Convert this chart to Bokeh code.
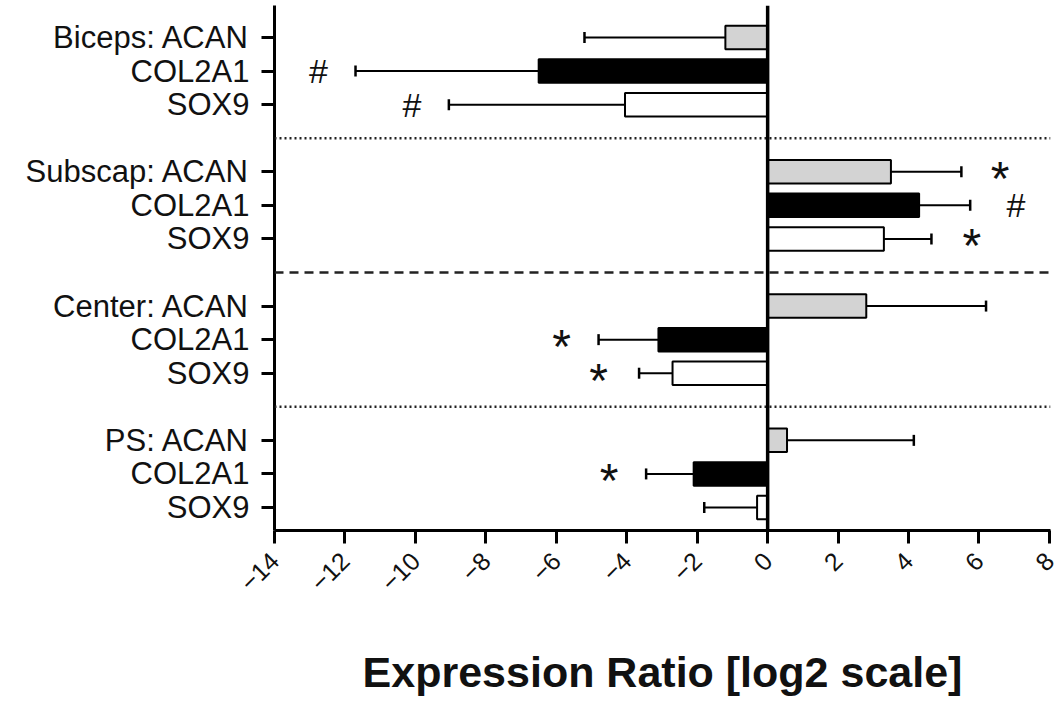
import math
from bokeh.plotting import figure
from bokeh.models import ColumnDataSource, Range1d, FixedTicker, Span, Whisker, TeeHead
from bokeh.core.properties import value
from bokeh.embed import file_html
from bokeh.resources import INLINE

# ---- data ----
row_labels = ["Biceps: ACAN", "COL2A1", "SOX9",
              "Subscap: ACAN", "COL2A1", "SOX9",
              "Center: ACAN", "COL2A1", "SOX9",
              "PS: ACAN", "COL2A1", "SOX9"]
genes = ["ACAN", "COL2A1", "SOX9"] * 4
row_pos = [0, 1, 2, 4, 5, 6, 8, 9, 10, 12, 13, 14]
ratios = [-1.2, -6.5, -4.05, 3.5, 4.3, 3.3, 2.8, -3.1, -2.7, 0.55, -2.1, -0.3]
sem = [4.0, 5.2, 5.0, 2.0, 1.45, 1.35, 3.4, 1.7, 0.95, 3.6, 1.35, 1.5]
gene_color = {"ACAN": "#d3d3d3", "COL2A1": "#000000", "SOX9": "#ffffff"}

sep_pos = [3, 7, 11]
sep_dash = ["2 3", "9 6", "2 3"]

mark_row = [1, 2, 4, 5, 6, 9, 10, 13]
mark_x = [-12.75, -10.1, 6.6, 7.05, 5.8, -5.85, -4.8, -4.5]
mark_sym = ["#", "#", "*", "#", "*", "*", "*", "*"]

x_ticks = list(range(-14, 9, 2))
x_label = "Expression Ratio [log2 scale]"

# ---- figure ----
FONT = "Liberation Sans"
p = figure(width=1059, height=702, output_backend="svg", toolbar_location=None,
           x_range=Range1d(-14, 8.03), y_range=Range1d(14.685, -0.953),
           min_border_left=274, min_border_right=9, min_border_top=5,
           min_border_bottom=172)
p.outline_line_color = None
p.xgrid.visible = False
p.ygrid.visible = False

ends = [r + (s if r >= 0 else -s) for r, s in zip(ratios, sem)]
src = ColumnDataSource(dict(y=row_pos, v=ratios, e=ends,
                            fill=[gene_color[g] for g in genes]))

p.hbar(y="y", left=0, right="v", height=0.7, source=src, fill_color="fill",
       line_color="black", line_width=2)

wh = Whisker(base="y", lower="v", upper="e", dimension="width", source=src,
             line_color="black", line_width=2,
             upper_head=TeeHead(size=11, line_width=2.5, line_color="black"),
             lower_head=None)
p.add_layout(wh)

for pos, dash in zip(sep_pos, sep_dash):
    p.add_layout(Span(location=pos, dimension="width", line_color="#222222",
                      line_width=2.5, line_dash=dash))

p.add_layout(Span(location=0, dimension="height", line_color="black", line_width=3.5))

hs = [i for i, s in enumerate(mark_sym) if s == "#"]
ss = [i for i, s in enumerate(mark_sym) if s == "*"]
p.text(x=[mark_x[i] for i in hs], y=[mark_row[i] for i in hs], text=[mark_sym[i] for i in hs],
       text_font=value(FONT), text_font_size="34px", text_align="center",
       text_baseline="middle", text_color="#111111")
p.text(x=[mark_x[i] for i in ss], y=[mark_row[i] for i in ss], text=[mark_sym[i] for i in ss],
       text_font=value(FONT), text_font_size="48px", text_align="center",
       text_baseline="alphabetic", y_offset=7, text_color="#111111")

# axes
xa = p.xaxis[0]
xa.ticker = FixedTicker(ticks=x_ticks)
xa.major_label_orientation = math.pi / 4
xa.major_label_text_font = FONT
xa.major_label_text_font_size = "25px"
xa.major_label_text_color = "#111111"
xa.major_label_standoff = 13
xa.axis_label = x_label
xa.axis_label_text_font = FONT
xa.axis_label_text_font_style = "bold"
xa.axis_label_text_font_size = "43px"
xa.axis_label_text_color = "#111111"
xa.axis_label_standoff = 46
xa.axis_line_width = 3
xa.major_tick_line_width = 3
xa.major_tick_out = 13
xa.major_tick_in = 0
xa.minor_tick_line_color = None

ya = p.yaxis[0]
ya.ticker = FixedTicker(ticks=row_pos)
ya.major_label_overrides = {pos: lab for pos, lab in zip(row_pos, row_labels)}
ya.major_label_text_font = FONT
ya.major_label_text_font_size = "31px"
ya.major_label_text_color = "#111111"
ya.major_label_standoff = 12
ya.axis_line_width = 3
ya.major_tick_line_width = 3
ya.major_tick_out = 13
ya.major_tick_in = 0
ya.minor_tick_line_color = None

open("out.html", "w").write(file_html(p, INLINE))
